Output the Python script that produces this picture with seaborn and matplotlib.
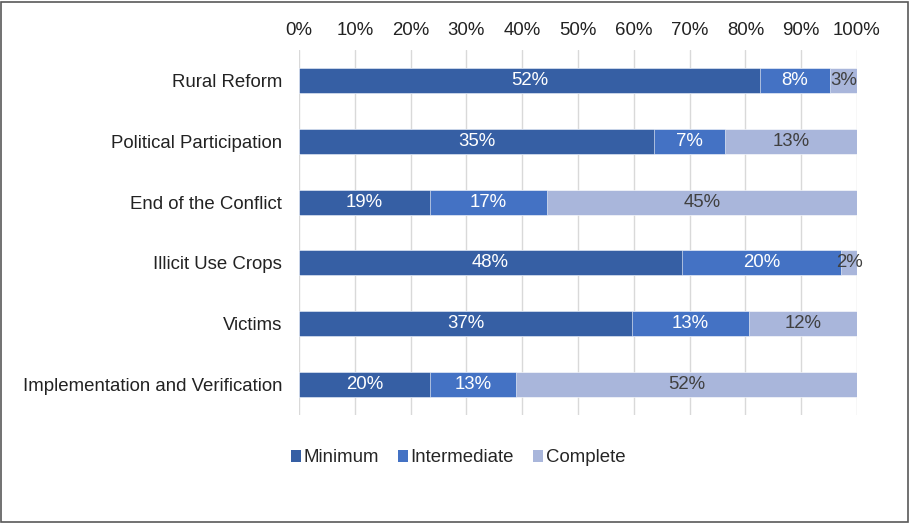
import matplotlib.pyplot as plt
import numpy as np
import pandas as pd
import seaborn as sns
from matplotlib.patches import Rectangle, Patch

# 各カテゴリの値（ラベルは実数値、バーは100%に正規化）
categories = [
    'Rural Reform',
    'Political Participation',
    'End of the Conflict',
    'Illicit Use Crops',
    'Victims',
    'Implementation and Verification',
]
minimum = [52, 35, 19, 48, 37, 20]
intermediate = [8, 7, 17, 20, 13, 13]
complete = [3, 13, 45, 2, 12, 52]
series_names = ['Minimum', 'Intermediate', 'Complete']
colors = ['#365FA4', '#4472C4', '#A9B6DB']
label_colors = ['white', 'white', '#404040']
FS = 13.4

sns.set_theme(style='white')
plt.rcParams['font.family'] = ['Liberation Sans', 'DejaVu Sans']

df = pd.DataFrame(
    {'Category': categories, 'Minimum': minimum,
     'Intermediate': intermediate, 'Complete': complete}
)
total = df[series_names].sum(axis=1)
share = df[series_names].div(total, axis=0) * 100
cum = share.cumsum(axis=1)

fig = plt.figure(figsize=(9.1, 5.23), dpi=100)
ax = fig.add_axes([299 / 910, 1 - 415 / 523, 558 / 910, 365 / 523])

# 積み上げは累積値を大きい順に重ねて描く
for name, color in zip(reversed(series_names), reversed(colors)):
    sns.barplot(x=cum[name], y=df['Category'], color=color, width=0.41,
                orient='h', ax=ax, saturation=1, edgecolor='white',
                linewidth=0.4, zorder=3)

# セグメント中央に値ラベル
for i, name in enumerate(series_names):
    left = cum[name] - share[name]
    for j, v in enumerate(df[name]):
        ax.text(left[j] + share[name][j] / 2, j, f'{v}%', ha='center',
                va='center', fontsize=FS, color=label_colors[i], zorder=4)

ax.set_xlim(0, 100)
ax.set_ylim(5.5, -0.5)
ax.set_xticks(np.arange(0, 101, 10))
ax.set_xticklabels([f'{t}%' for t in range(0, 101, 10)], fontsize=FS,
                   color='#222222')
ax.xaxis.tick_top()
ax.tick_params(axis='x', length=0, pad=8)
ax.tick_params(axis='y', length=0, pad=12, labelsize=FS, labelcolor='#222222')
ax.grid(axis='x', color='#D9D9D9', linewidth=1, zorder=0)
ax.set_axisbelow(True)
ax.set_xlabel('')
ax.set_ylabel('')
for s in ax.spines.values():
    s.set_visible(False)

handles = [Patch(facecolor=c, edgecolor='none') for c in colors]
fig.legend(handles, series_names, loc='center', bbox_to_anchor=(458 / 910, 1 - 458 / 523),
           ncol=3, frameon=False, fontsize=FS, handlelength=0.55, handleheight=0.55,
           handletextpad=0.15, columnspacing=1.0)

# 外枠
fig.patches.append(Rectangle((0.001, 0.002), 0.997, 0.995, transform=fig.transFigure,
                             fill=False, edgecolor='#595959', linewidth=1.2))

fig.savefig('out.png', dpi=100)
